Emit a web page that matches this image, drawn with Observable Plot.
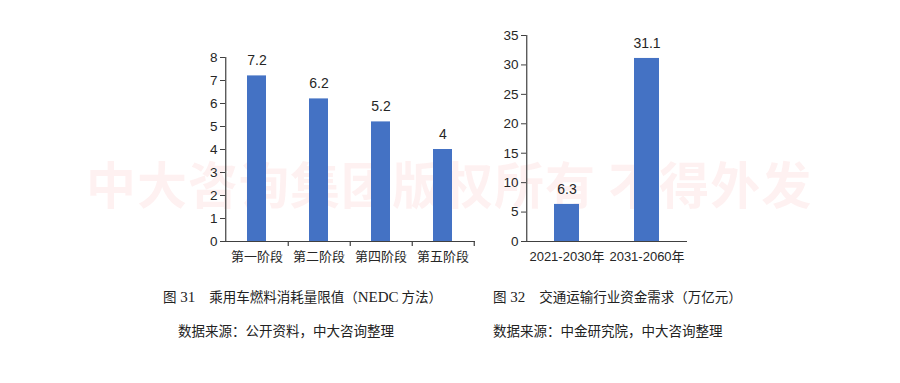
<!DOCTYPE html>
<html><head><meta charset="utf-8">
<script src="https://cdn.jsdelivr.net/npm/d3@7"></script>
<script src="https://cdn.jsdelivr.net/npm/@observablehq/plot@0.6"></script>
<style>
html,body{margin:0;padding:0;background:#fff;}
#wrap{position:relative;width:900px;height:383px;overflow:hidden;font-family:"Noto Sans CJK SC",sans-serif;background:#fff;}
.abs{position:absolute;}
#wm{left:86px;top:152px;font-size:50px;line-height:60px;color:rgba(235,40,40,0.065);letter-spacing:1px;white-space:nowrap;font-weight:bold}
.cap{font-size:13.5px;line-height:18px;color:#222;white-space:nowrap}
.ser{font-family:"Liberation Serif","Noto Sans CJK SC",serif;font-size:15px;}
</style></head><body>
<div id="wrap">
  <div id="wm" class="abs">中大咨询集团版权所有 不得外发</div>
  <div id="c1" class="abs" style="left:0;top:0"></div>
  <div id="c2" class="abs" style="left:480px;top:0"></div>
  <div class="abs cap" style="left:163px;top:287px"><span>图</span><span class="ser"> 31</span><span style="display:inline-block;width:14px"></span>乘用车燃料消耗量限值（<span class="ser">NEDC</span> 方法）</div>
  <div class="abs cap" style="left:178px;top:321px">数据来源：公开资料，中大咨询整理</div>
  <div class="abs cap" style="left:493px;top:287px"><span>图</span><span class="ser"> 32</span><span style="display:inline-block;width:14px"></span>交通运输行业资金需求（万亿元）</div>
  <div class="abs cap" style="left:493px;top:321px">数据来源：中金研究院，中大咨询整理</div>
</div>
<script>
const stages = ["第一阶段", "第二阶段", "第四阶段", "第五阶段"];
const fuelLimits = [7.2, 6.2, 5.2, 4];
const yTicks1 = [0, 1, 2, 3, 4, 5, 6, 7, 8];

const periods = ["2021-2030年", "2031-2060年"];
const funding = [6.3, 31.1];
const yTicks2 = [0, 5, 10, 15, 20, 25, 30, 35];

const barColor = "#4472C4";
const axisColor = "#404040";
const textColor = "#262626";

const d1 = stages.map((s, i) => ({cat: s, value: fuelLimits[i]}));
const d2 = periods.map((s, i) => ({cat: s, value: funding[i]}));

function chart(data, cats, yDomain, yTicks, opts) {
  const w = opts.width, ml = opts.marginLeft, mr = opts.marginRight;
  const step = (w - ml - mr) / cats.length;
  const marks = [
    Plot.barY(data, {x: "cat", y: "value", fill: barColor}),
    Plot.axisY({ticks: yTicks, tickSize: 5, tickPadding: 3, label: null, fontSize: 13.5,
      fontFamily: "Liberation Sans, Arial, sans-serif", stroke: axisColor, fill: textColor}),
    Plot.axisX({tickSize: 0, tickPadding: 10, label: null, fontSize: 13,
      fontFamily: opts.xFont, fill: textColor}),
    Plot.ruleY([0], {stroke: axisColor, strokeWidth: 1.2}),
    Plot.ruleX([cats[0]], {x: d => d, y1: () => yDomain[0], y2: () => yDomain[1], dx: -step / 2, stroke: axisColor, strokeWidth: 1.2}),
    Plot.text(data, {x: "cat", y: "value", text: d => String(d.value), dy: -15, fontSize: 14,
      fontFamily: "Liberation Sans, Arial, sans-serif", fill: textColor})
  ];
  if (opts.bandTicks) {
    marks.push(Plot.ruleX(cats, {x: d => d, y1: () => 0, y2: () => 0, insetBottom: -5, dx: step / 2, stroke: axisColor, strokeWidth: 1.2}));
  }
  return Plot.plot({
    width: w, height: opts.height,
    marginLeft: ml, marginRight: mr, marginTop: opts.marginTop, marginBottom: opts.marginBottom,
    style: "background:transparent;overflow:visible;",
    x: {domain: cats, paddingInner: 0.69, paddingOuter: 0.345},
    y: {domain: yDomain},
    marks
  });
}

document.getElementById("c1").appendChild(chart(d1, stages, [0, 8], yTicks1, {
  width: 480, height: 270, marginLeft: 225, marginRight: 5, marginTop: 57, marginBottom: 29,
  xFont: "Noto Sans CJK SC, sans-serif", bandTicks: true
}));
document.getElementById("c2").appendChild(chart(d2, periods, [0, 35], yTicks2, {
  width: 420, height: 270, marginLeft: 46, marginRight: 213, marginTop: 35, marginBottom: 29,
  xFont: "Liberation Sans, Arial, Noto Sans CJK SC, sans-serif", bandTicks: false
}));
</script>
</body></html>
